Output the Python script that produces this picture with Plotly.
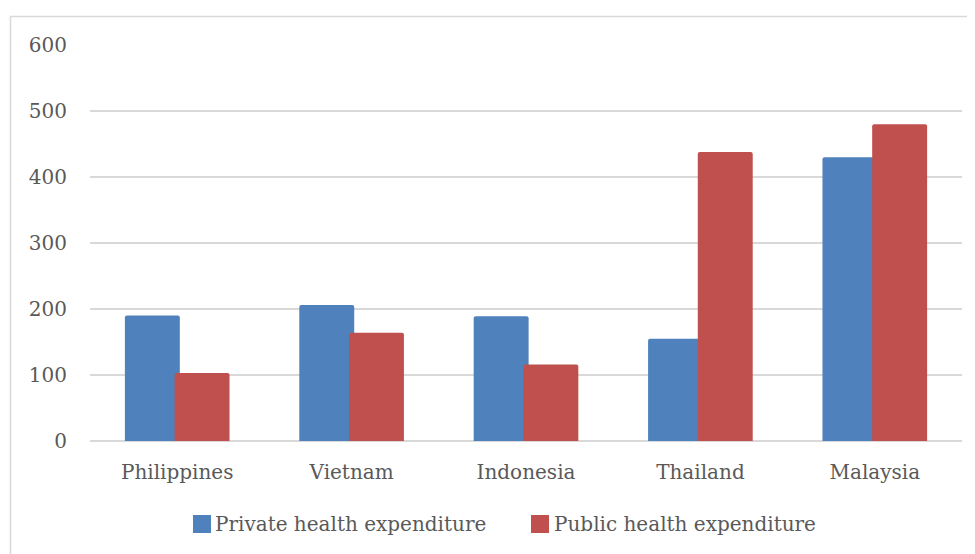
import plotly.graph_objects as go

countries = ["Philippines", "Vietnam", "Indonesia", "Thailand", "Malaysia"]
private_exp = [190, 206, 189, 155, 430]
public_exp = [103, 164, 116, 438, 480]
series_names = ["Private health expenditure", "Public health expenditure"]
series_colors = ["#4F81BD", "#C0504D"]
y_ticks = [0, 100, 200, 300, 400, 500, 600]

FONT = "DejaVu Serif"
TXT = "#595959"
GRID = "#D9D9D9"

# page body has an 8px margin; figure coordinates = page coordinates - 8
OFF = 8
W, H = 975 - OFF, 554 - OFF
L, R, T, B = 90 - OFF, W - (962 - OFF), 45 - OFF, H - (441 - OFF)
pw = W - L - R
ph = H - T - B

def px_x(page_px):
    return (page_px - OFF - L) / pw

def px_y(page_py):
    return (H - B - (page_py - OFF)) / ph

fig = go.Figure()
fig.add_trace(go.Bar(
    x=countries, y=private_exp, name=series_names[0],
    marker=dict(color=series_colors[0], cornerradius=2, line=dict(width=0)),
    width=0.315, offset=-0.30, showlegend=False,
))
fig.add_trace(go.Bar(
    x=countries, y=public_exp, name=series_names[1],
    marker=dict(color=series_colors[1], cornerradius=2, line=dict(width=0)),
    width=0.315, offset=-0.015, showlegend=False,
))

# outer chart frame
fig.add_shape(type="rect", xref="paper", yref="paper", layer="below",
              x0=px_x(10.5), x1=px_x(1000), y0=px_y(620), y1=px_y(16.5),
              line=dict(color=GRID, width=1.5), fillcolor="rgba(0,0,0,0)")

# legend (squares + labels)
legend_sq = [(193, 211), (531, 549)]
legend_txt_x = [213, 552]
for (x0, x1), tx, name, col in zip(legend_sq, legend_txt_x, series_names, series_colors):
    fig.add_shape(type="rect", xref="paper", yref="paper",
                  x0=px_x(x0), x1=px_x(x1), y0=px_y(533), y1=px_y(515),
                  line=dict(width=0), fillcolor=col)
    fig.add_annotation(xref="paper", yref="paper", x=px_x(tx), y=px_y(524),
                       xanchor="left", yanchor="middle", showarrow=False,
                       text=name, font=dict(family=FONT, size=20, color=TXT))

fig.update_layout(
    width=W, height=H,
    margin=dict(l=L, r=R, t=T, b=B),
    paper_bgcolor="white", plot_bgcolor="white",
    barmode="overlay",
    font=dict(family=FONT, size=20, color=TXT),
    showlegend=False,
    xaxis=dict(showgrid=False, showline=False, ticks="", ticklabelstandoff=17,
               tickfont=dict(family=FONT, size=20, color=TXT), fixedrange=True),
    yaxis=dict(range=[0, 600], tickvals=y_ticks, showgrid=True, gridcolor=GRID,
               gridwidth=1.5, zeroline=True, zerolinecolor=GRID, zerolinewidth=1.5,
               showline=False, ticks="", ticklabelstandoff=22,
               tickfont=dict(family=FONT, size=20, color=TXT), fixedrange=True),
)

fig.write_html("out.html")
